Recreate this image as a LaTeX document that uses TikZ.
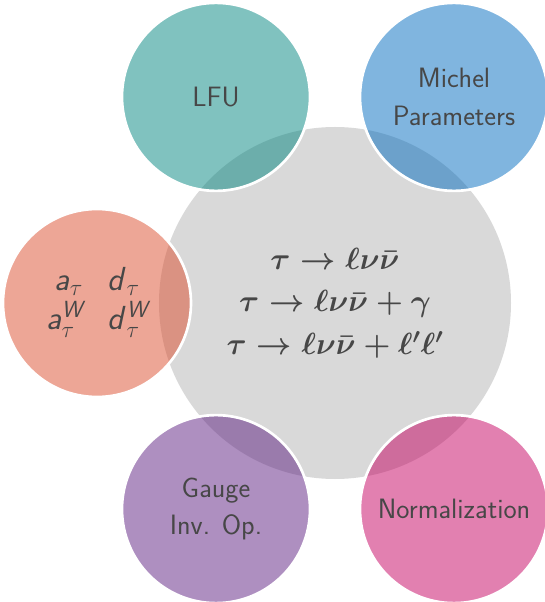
\documentclass[tikz,border=0pt]{standalone}
\usepackage{fix-cm}
\usepackage{amsmath}
\usetikzlibrary{positioning}
\definecolor{hubgray}{HTML}{D9D9D9}
\definecolor{lfucol}{HTML}{01857F}
\definecolor{michelcol}{HTML}{016BBF}
\definecolor{dipolecol}{HTML}{DB4D2D}
\definecolor{gaugecol}{HTML}{5D1F81}
\definecolor{normcol}{HTML}{C50161}
\definecolor{labeltext}{HTML}{474747}
\tikzset{
  satellite/.style={circle,inner sep=0pt,minimum size=141pt,fill=#1,fill opacity=0.5,
    text opacity=1,draw=white,draw opacity=1,line width=2pt,align=center,
    text=labeltext,font=\sffamily\fontsize{21}{28}\selectfont}
}
\begin{document}
\begin{tikzpicture}[x=0.75pt,y=0.75pt]
    \useasboundingbox (-335,-299) rectangle (210,303);
    \node[circle,inner sep=0pt,minimum size=264pt,fill=hubgray,text=labeltext,
      font=\fontsize{23}{32}\selectfont\boldmath,align=center] (hub) at (0,0)
      {$\tau\rightarrow\ell\nu\bar{\nu}$\\
       $\tau\rightarrow\ell\nu\bar{\nu}+\gamma$\\
       $\tau\rightarrow\ell\nu\bar{\nu}+\ell'\ell'$};

    \node[satellite=lfucol] (lfu) at (120:238) {LFU};
    \node[satellite=michelcol] (michel) at (60:238) {Michel\\Parameters};
    \node[satellite=dipolecol,font=\sffamily\fontsize{25}{27}\selectfont] (dipole) at (180:238)
      {\begin{tabular}{@{}r@{\hspace{0.75em}}l@{}}
        \textsl{a}$_{\tau}$ & \textsl{d}$_{\tau}$\\
        \textsl{a}$^{\textsl{W}}_{\tau}$ & \textsl{d}$^{\textsl{W}}_{\tau}$
       \end{tabular}};
    \node[satellite=gaugecol] (gauge) at (240:238) {Gauge\\Inv. Op.};
    \node[satellite=normcol] (norm) at (300:238) {Normalization};
  \end{tikzpicture}
\end{document}
